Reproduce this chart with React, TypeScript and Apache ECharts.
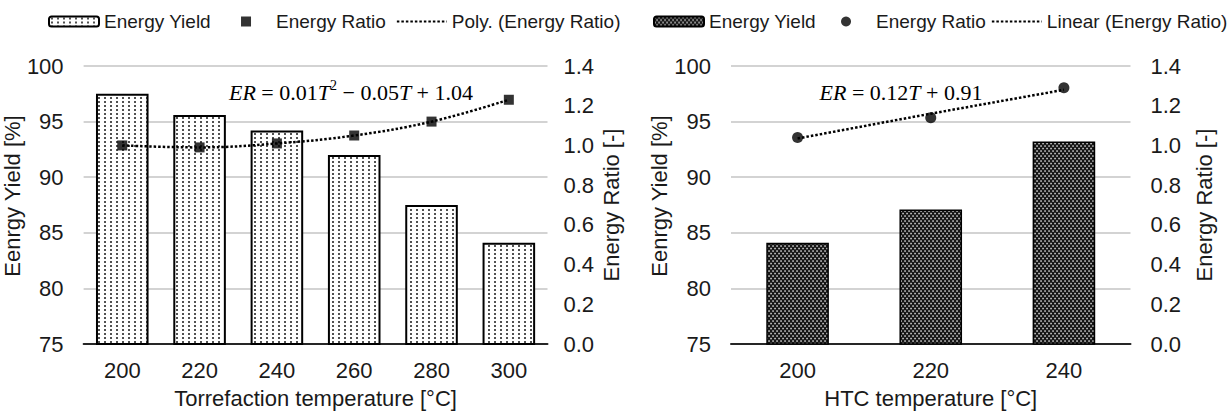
import React, { useEffect, useRef } from 'react';
import * as echarts from 'echarts';

// ---- Data ----
const torrefactionTemps = ['200', '220', '240', '260', '280', '300'];
const torrefactionYield = [97.5, 95.6, 94.2, 92.0, 87.5, 84.1];
const torrefactionRatio = [1.0, 0.99, 1.01, 1.05, 1.12, 1.23];
const torrefactionTrend = [1.0, 0.99, 1.01, 1.05, 1.12, 1.23];

const htcTemps = ['200', '220', '240'];
const htcYield = [84.1, 87.1, 93.2];
const htcRatio = [1.04, 1.14, 1.29];
const htcTrend = [1.035, 1.16, 1.28];

const yieldMin = 75;
const yieldMax = 100;
const yieldStep = 5;
const ratioMin = 0;
const ratioMax = 1.4;
const ratioStep = 0.2;

const leftEquation = '{i|ER} = 0.01{i|T}{s|2} \u2212 0.05{i|T} + 1.04';
const rightEquation = '{i|ER} = 0.12{i|T} + 0.91';

const SANS = 'Liberation Sans, Arial, sans-serif';
const SERIF = 'Liberation Serif, Times New Roman, serif';
const TEXT = '#1a1a1a';

function makeTile(w: number, h: number, draw: (ctx: CanvasRenderingContext2D, s: number) => void) {
  const s = 4;
  const c = document.createElement('canvas');
  c.width = w * s;
  c.height = h * s;
  const ctx = c.getContext('2d') as CanvasRenderingContext2D;
  draw(ctx, s);
  return { image: c.toDataURL(), repeat: 'repeat', imageWidth: w, imageHeight: h };
}

export default function App() {
  const ref = useRef<HTMLDivElement>(null);

  useEffect(() => {
    if (!ref.current) return;
    const chart = echarts.init(ref.current, undefined, { renderer: 'svg' });

    const dotPattern = makeTile(6, 4, (ctx, s) => {
      ctx.fillStyle = '#ffffff';
      ctx.fillRect(0, 0, 6 * s, 4 * s);
      ctx.fillStyle = '#2a2a2a';
      ctx.beginPath();
      ctx.arc(3 * s, 2 * s, 1.0 * s, 0, Math.PI * 2);
      ctx.fill();
    });
    const checkPattern = makeTile(4, 5, (ctx, s) => {
      ctx.fillStyle = '#151515';
      ctx.fillRect(0, 0, 4 * s, 5 * s);
      ctx.fillStyle = '#dcdcdc';
      ctx.fillRect(0.3 * s, 0.3 * s, 1.5 * s, 1.5 * s);
      ctx.fillRect(2.3 * s, 2.8 * s, 1.5 * s, 1.5 * s);
    });

    const yieldAxis = (gridIndex: number, nameGap: number) => ({
      type: 'value',
      gridIndex,
      min: yieldMin,
      max: yieldMax,
      interval: yieldStep,
      name: 'Eenrgy Yield [%]',
      nameLocation: 'middle',
      nameGap,
      nameTextStyle: { fontSize: 22, color: TEXT, fontFamily: SANS, padding: [0, 0, 0, 18] },
      axisLabel: { fontSize: 22, color: TEXT, fontFamily: SANS, margin: 20 },
      axisLine: { show: false },
      axisTick: { show: false },
      splitLine: { show: true, lineStyle: { color: '#c4c4c4', width: 1.5 } },
    });
    const ratioAxis = (gridIndex: number, nameGap: number, margin: number) => ({
      type: 'value',
      gridIndex,
      position: 'right',
      min: ratioMin,
      max: ratioMax,
      interval: ratioStep,
      name: 'Energy Ratio [-]',
      nameLocation: 'middle',
      nameGap,
      nameTextStyle: { fontSize: 22, color: TEXT, fontFamily: SANS },
      axisLabel: {
        fontSize: 22,
        color: TEXT,
        fontFamily: SANS,
        margin,
        formatter: (v: number) => v.toFixed(1),
      },
      axisLine: { show: false },
      axisTick: { show: false },
      splitLine: { show: false },
    });
    const catAxis = (gridIndex: number, data: string[], name: string) => ({
      type: 'category',
      gridIndex,
      data,
      name,
      nameLocation: 'middle',
      nameGap: 43,
      nameTextStyle: { fontSize: 22, color: TEXT, fontFamily: SANS },
      axisLabel: { fontSize: 22, color: TEXT, fontFamily: SANS, margin: 15 },
      axisLine: { lineStyle: { color: '#262626', width: 2 } },
      axisTick: { show: false },
    });

    const legendBase = {
      top: 12,
      padding: 0,
      itemWidth: 50,
      itemHeight: 10,
      width: 640,
      selectedMode: false,
      textStyle: { fontSize: 19, color: TEXT, fontFamily: SANS },
      formatter: (n: string) => n.trim(),
    };
    // icons keep a 50x10 frame so the marker sits in the middle of its slot
    const squareIcon = 'path://M0,0L0.01,0Z M49.99,10L50,10Z M20,0H30V10H20Z';
    const circleIcon = 'path://M0,0L0.01,0Z M49.99,10L50,10Z M25,0A5,5 0 1 1 24.99,0Z';

    const option = {
      animation: false,
      backgroundColor: '#ffffff',
      textStyle: { fontFamily: SANS },
      legend: [
        {
          ...legendBase,
          left: 48,
          itemGap: 10,
          data: [
            { name: 'Energy Yield' },
            { name: 'Energy Ratio', icon: squareIcon },
            { name: 'Poly. (Energy Ratio)' },
          ],
        },
        {
          ...legendBase,
          left: 653,
          itemGap: 5,
          data: [
            { name: 'Energy Yield ' },
            { name: 'Energy Ratio ', icon: circleIcon },
            { name: 'Linear (Energy Ratio)' },
          ],
        },
      ],
      grid: [
        { left: 83.5, top: 66, width: 464, height: 280 },
        { left: 731, top: 66, width: 399.5, height: 280 },
      ],
      xAxis: [
        catAxis(0, torrefactionTemps, 'Torrefaction temperature [°C]'),
        catAxis(1, htcTemps, 'HTC temperature [°C]'),
      ],
      yAxis: [yieldAxis(0, 53), ratioAxis(0, 53, 16), yieldAxis(1, 59), ratioAxis(1, 63, 20)],
      series: [
        {
          name: 'Energy Yield',
          type: 'bar',
          xAxisIndex: 0,
          yAxisIndex: 0,
          data: torrefactionYield,
          barWidth: '68%',
          itemStyle: { color: dotPattern, borderColor: '#000', borderWidth: 2 },
          z: 2,
        },
        {
          name: 'Energy Ratio',
          type: 'scatter',
          xAxisIndex: 0,
          yAxisIndex: 1,
          data: torrefactionRatio,
          symbol: 'rect',
          symbolSize: 10,
          itemStyle: { color: '#000' },
          z: 5,
        },
        {
          name: 'Poly. (Energy Ratio)',
          type: 'line',
          xAxisIndex: 0,
          yAxisIndex: 1,
          data: torrefactionTrend,
          smooth: 0.4,
          symbol: 'none',
          itemStyle: { color: 'rgba(0,0,0,0)' },
          lineStyle: { color: '#000', width: 2.5, type: [2.5, 2] },
          z: 4,
        },
        {
          name: 'Energy Yield ',
          type: 'bar',
          xAxisIndex: 1,
          yAxisIndex: 2,
          data: htcYield,
          barWidth: '47%',
          itemStyle: { color: checkPattern, borderColor: '#000', borderWidth: 1.5 },
          z: 2,
        },
        {
          name: 'Energy Ratio ',
          type: 'scatter',
          xAxisIndex: 1,
          yAxisIndex: 3,
          data: htcRatio,
          symbol: 'circle',
          symbolSize: 11,
          itemStyle: { color: '#000' },
          z: 5,
        },
        {
          name: 'Linear (Energy Ratio)',
          type: 'line',
          xAxisIndex: 1,
          yAxisIndex: 3,
          data: htcTrend,
          symbol: 'none',
          itemStyle: { color: 'rgba(0,0,0,0)' },
          lineStyle: { color: '#000', width: 2.5, type: [2.5, 2] },
          z: 4,
        },
      ],
      graphic: [
        {
          type: 'text',
          x: 351,
          y: 92,
          z: 10,
          style: {
            text: leftEquation,
            fontFamily: SERIF,
            fontSize: 22,
            lineHeight: 28,
            fill: '#000',
            align: 'center',
            verticalAlign: 'middle',
            rich: {
              i: { fontFamily: SERIF, fontStyle: 'italic', fontSize: 22, lineHeight: 28 },
              s: { fontFamily: SERIF, fontSize: 14, lineHeight: 14, verticalAlign: 'top' },
            },
          },
        },
        {
          type: 'text',
          x: 901,
          y: 92,
          z: 10,
          style: {
            text: rightEquation,
            fontFamily: SERIF,
            fontSize: 22,
            lineHeight: 28,
            fill: '#000',
            align: 'center',
            verticalAlign: 'middle',
            rich: {
              i: { fontFamily: SERIF, fontStyle: 'italic', fontSize: 22, lineHeight: 28 },
            },
          },
        },
      ],
    };

    chart.setOption(option as any);
    return () => {
      chart.dispose();
    };
  }, []);

  return (
    <div
      ref={ref}
      style={{ position: 'absolute', left: 0, top: 0, width: 1229, height: 414, background: '#fff' }}
    />
  );
}
